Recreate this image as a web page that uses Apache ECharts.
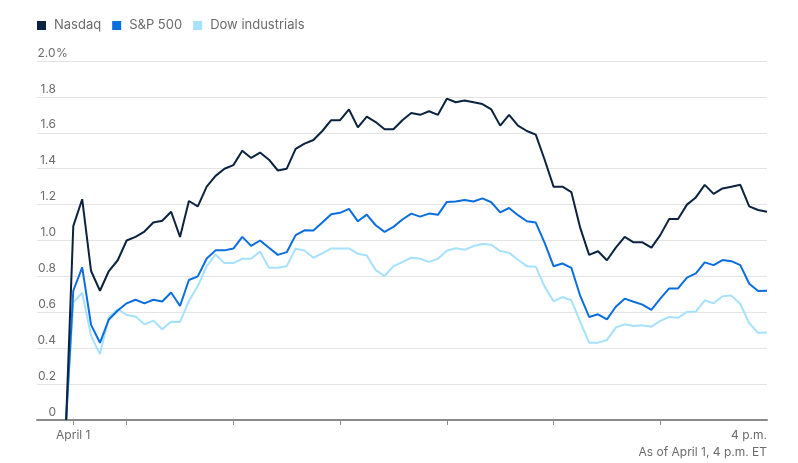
<!DOCTYPE html>
<html>
<head>
<meta charset="utf-8">
<script src="https://cdn.jsdelivr.net/npm/echarts@6/dist/echarts.min.js"></script>
<style>html,body{margin:0;padding:0;background:#fff}#c{width:798px;height:463px}</style>
</head>
<body>
<div id="c"></div>
<script>
const seriesNames = ["Nasdaq", "S&P 500", "Dow industrials"];
const times = ["9:26","9:30","9:35","9:40","9:45","9:50","9:55",
"10:00","10:05","10:10","10:15","10:20","10:25","10:30","10:35","10:40","10:45","10:50","10:55",
"11:00","11:05","11:10","11:15","11:20","11:25","11:30","11:35","11:40","11:45","11:50","11:55",
"12:00","12:05","12:10","12:15","12:20","12:25","12:30","12:35","12:40","12:45","12:50","12:55",
"13:00","13:05","13:10","13:15","13:20","13:25","13:30","13:35","13:40","13:45","13:50","13:55",
"14:00","14:05","14:10","14:15","14:20","14:25","14:30","14:35","14:40","14:45","14:50","14:55",
"15:00","15:05","15:10","15:15","15:20","15:25","15:30","15:35","15:40","15:45","15:50","15:55",
"16:00"];
const nasdaq = [0, 1.08, 1.23, 0.83, 0.72, 0.83, 0.89, 1.00, 1.02, 1.05, 1.10, 1.11, 1.16, 1.02, 1.22, 1.19, 1.30, 1.36, 1.40, 1.42, 1.50, 1.46, 1.49, 1.45, 1.39, 1.40, 1.51, 1.54, 1.56, 1.61, 1.67, 1.67, 1.73, 1.63, 1.69, 1.66, 1.62, 1.62, 1.67, 1.71, 1.70, 1.72, 1.70, 1.79, 1.77, 1.78, 1.77, 1.76, 1.73, 1.64, 1.70, 1.64, 1.61, 1.59, 1.45, 1.30, 1.30, 1.27, 1.07, 0.92, 0.94, 0.89, 0.96, 1.02, 0.99, 0.99, 0.96, 1.03, 1.12, 1.12, 1.20, 1.24, 1.31, 1.26, 1.29, 1.30, 1.31, 1.19, 1.17, 1.16];
const sp500 = [0, 0.72, 0.85, 0.53, 0.43, 0.56, 0.61, 0.65, 0.67, 0.65, 0.67, 0.66, 0.71, 0.635, 0.78, 0.80, 0.90, 0.945, 0.945, 0.955, 1.02, 0.97, 1.00, 0.96, 0.92, 0.935, 1.03, 1.057, 1.056, 1.10, 1.146, 1.154, 1.176, 1.107, 1.144, 1.085, 1.048, 1.076, 1.117, 1.15, 1.133, 1.15, 1.143, 1.215, 1.217, 1.226, 1.217, 1.235, 1.213, 1.157, 1.181, 1.141, 1.107, 1.10, 0.987, 0.857, 0.872, 0.848, 0.691, 0.574, 0.589, 0.561, 0.631, 0.676, 0.659, 0.643, 0.613, 0.676, 0.733, 0.733, 0.793, 0.817, 0.878, 0.863, 0.891, 0.885, 0.863, 0.759, 0.719, 0.72];
const dow = [0, 0.654, 0.709, 0.469, 0.367, 0.574, 0.617, 0.585, 0.576, 0.533, 0.554, 0.506, 0.548, 0.546, 0.663, 0.746, 0.857, 0.922, 0.874, 0.874, 0.898, 0.898, 0.939, 0.848, 0.848, 0.857, 0.954, 0.944, 0.904, 0.928, 0.956, 0.956, 0.956, 0.926, 0.917, 0.835, 0.802, 0.857, 0.880, 0.904, 0.898, 0.881, 0.898, 0.943, 0.957, 0.948, 0.969, 0.980, 0.976, 0.941, 0.931, 0.893, 0.857, 0.854, 0.743, 0.661, 0.685, 0.667, 0.546, 0.431, 0.431, 0.446, 0.515, 0.533, 0.524, 0.528, 0.520, 0.552, 0.574, 0.569, 0.602, 0.604, 0.667, 0.650, 0.689, 0.693, 0.646, 0.539, 0.485, 0.487];
const yTicks = [0, 0.2, 0.4, 0.6, 0.8, 1.0, 1.2, 1.4, 1.6, 1.8, 2.0];
const xTickTimes = ["9:30","10:00","11:00","12:00","13:00","14:00","15:00"];
const xLabelTimes = ["9:30","16:00"];
const xLabelTexts = ["April 1","4 p.m."];
const footnote = "As of April 1, 4 p.m. ET";

function toMin(t){const p=t.split(':').map(Number);return (p[0]-9)*60+p[1]-30;}
function pairs(vals){return times.map((t,i)=>[toMin(t), vals[i]]);}

const FONT = 'Inter, "Liberation Sans", sans-serif';
const colors = ['#0c2340', '#0a6ee0', '#a6e1fe'];
const chart = echarts.init(document.getElementById('c'), null, {renderer:'canvas'});
chart.setOption({
  animation:false,
  color: colors,
  textStyle:{fontFamily:FONT},
  title:{text:footnote, right:31, top:446, padding:0,
    textStyle:{fontSize:12, fontWeight:'normal', color:'#6b6b6b', fontFamily:FONT}},
  legend:{left:37, top:19, padding:0, itemWidth:9, itemHeight:9, itemGap:11, icon:'rect',
    data:seriesNames,
    textStyle:{fontSize:13, color:'#6b6b6b', fontFamily:FONT, padding:[0,0,0,3]}},
  grid:{left:37, right:31, top:61, bottom:43, containLabel:false},
  xAxis:{type:'value', min:-20.4, max:390,
    axisLine:{show:true, lineStyle:{color:'#8a8a8a', width:2}},
    axisTick:{show:true, length:5, lineStyle:{color:'#8a8a8a', width:1},
      customValues: xTickTimes.map(toMin)},
    axisLabel:{show:true, margin:9, fontSize:12, color:'#6b6b6b', fontFamily:FONT,
      customValues: xLabelTimes.map(toMin), alignMaxLabel:'right',
      formatter:function(v){const i=xLabelTimes.map(toMin).indexOf(v);return i>=0?xLabelTexts[i]:'';}},
    splitLine:{show:false}},
  yAxis:{type:'value', min:0, max:2, interval:0.2,
    axisLine:{show:false}, axisTick:{show:false},
    splitLine:{show:true, lineStyle:{color:'#e4e4e4', width:1}},
    axisLabel:{inside:true, margin:0, align:'left', verticalAlign:'bottom', padding:[0,0,2,0],
      fontSize:12, color:'#6b6b6b', fontFamily:FONT,
      formatter:function(v){
        const s = v===0 ? '0' : v.toFixed(1);
        return v===2 ? '{a|'+s+'}{b|%}' : '{a|'+s+'}';
      },
      rich:{a:{width:19, align:'right', fontSize:12, color:'#6b6b6b', fontFamily:FONT},
            b:{fontSize:12, color:'#6b6b6b', fontFamily:FONT}}}},
  series:[
    {name:seriesNames[2], type:'line', data:pairs(dow), showSymbol:false, z:2,
      lineStyle:{width:2, color:colors[2]}, itemStyle:{color:colors[2]}},
    {name:seriesNames[1], type:'line', data:pairs(sp500), showSymbol:false, z:3,
      lineStyle:{width:2, color:colors[1]}, itemStyle:{color:colors[1]}},
    {name:seriesNames[0], type:'line', data:pairs(nasdaq), showSymbol:false, z:4,
      lineStyle:{width:2, color:colors[0]}, itemStyle:{color:colors[0]}}
  ]
});
</script>
</body>
</html>
